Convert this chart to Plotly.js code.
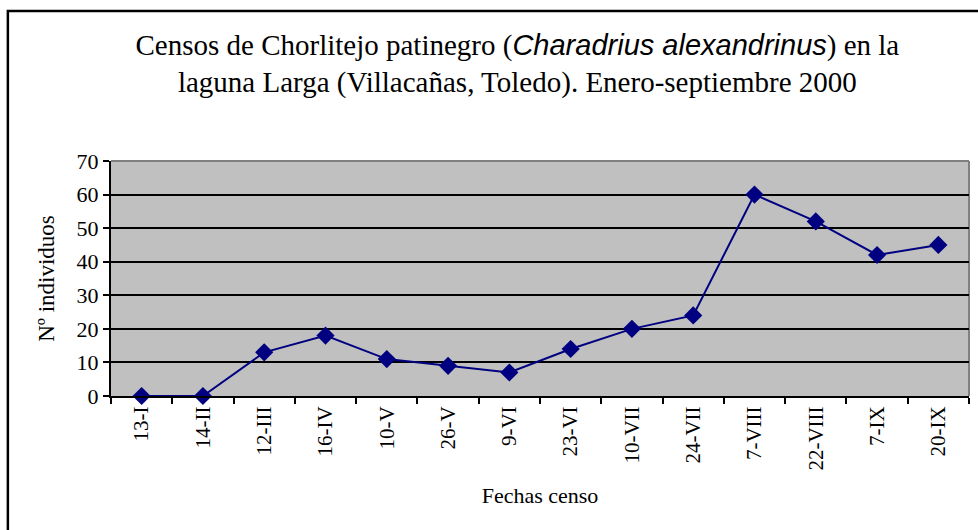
<!DOCTYPE html>
<html>
<head>
<meta charset="utf-8">
<script src="https://cdn.plot.ly/plotly-3.0.1.min.js"></script>
<style>html,body{margin:0;padding:0;background:#fff;}#chart{width:978px;height:530px;}</style>
</head>
<body>
<div id="chart"></div>
<script>
const fechas = ["13-I","14-II","12-III","16-IV","10-V","26-V","9-VI","23-VI","10-VII","24-VII","7-VIII","22-VIII","7-IX","20-IX"];
const individuos = [0,0,13,18,11,9,7,14,20,24,60,52,42,45];
const yTicks = [0,10,20,30,40,50,60,70];

const serif = "'Liberation Serif', 'Times New Roman', serif";

const trace = {
  type: "scatter",
  mode: "lines+markers",
  x: fechas,
  y: individuos,
  line: {color: "#000080", width: 2},
  marker: {symbol: "diamond", size: 14, color: "#000080"},
  cliponaxis: false,
  hoverinfo: "x+y"
};

const layout = {
  width: 978, height: 530,
  margin: {l: 111, r: 9, t: 161, b: 134, pad: 0},
  paper_bgcolor: "#ffffff",
  plot_bgcolor: "#C0C0C0",
  showlegend: false,
  font: {family: serif, color: "#000", size: 20},
  title: {
    text: "Censos de Chorlitejo patinegro (<span style='font-family:Liberation Sans, Arial, sans-serif;font-style:italic'>Charadrius alexandrinus</span>) en la<br>laguna Larga (Villacañas, Toledo). Enero-septiembre 2000",
    font: {family: serif, size: 29, color: "#000"},
    x: 0.529, xanchor: "center", xref: "container",
    y: 0.897, yanchor: "middle", yref: "container"
  },
  xaxis: {
    type: "category",
    range: [-0.5, fechas.length - 0.5],
    tickangle: -90,
    tickson: "boundaries",
    ticks: "outside", ticklen: 6, tickwidth: 2, tickcolor: "#000",
    showline: true, linecolor: "#000", linewidth: 2,
    showgrid: false, zeroline: false,
    tickfont: {family: serif, size: 21, color: "#000"},
    title: {text: "Fechas censo", font: {family: serif, size: 22, color: "#000"}, standoff: 18},
    fixedrange: true
  },
  yaxis: {
    range: [0, 70],
    tickvals: yTicks,
    ticks: "outside", ticklen: 6, tickwidth: 2, tickcolor: "#000",
    showline: true, linecolor: "#000", linewidth: 2,
    showgrid: true, gridcolor: "#000", gridwidth: 2,
    zeroline: false,
    tickfont: {family: serif, size: 22, color: "#000"},
    title: {text: "Nº individuos", font: {family: serif, size: 23, color: "#000"}, standoff: 16},
    fixedrange: true
  },
  shapes: [
    {type: "line", xref: "paper", yref: "paper", x0: 0, x1: 1, y0: 1, y1: 1, line: {color: "#808080", width: 2}, layer: "below"},
    {type: "line", xref: "paper", yref: "paper", x0: 1, x1: 1, y0: 0, y1: 1, line: {color: "#808080", width: 2}, layer: "below"},
    {type: "rect", xref: "paper", yref: "paper", x0: -0.1202, x1: 1.05, y0: -0.62, y1: 1.638, line: {color: "#000", width: 2.5}, fillcolor: "rgba(0,0,0,0)"}
  ]
};

Plotly.newPlot("chart", [trace], layout, {displayModeBar: false, staticPlot: true});
</script>
</body>
</html>
